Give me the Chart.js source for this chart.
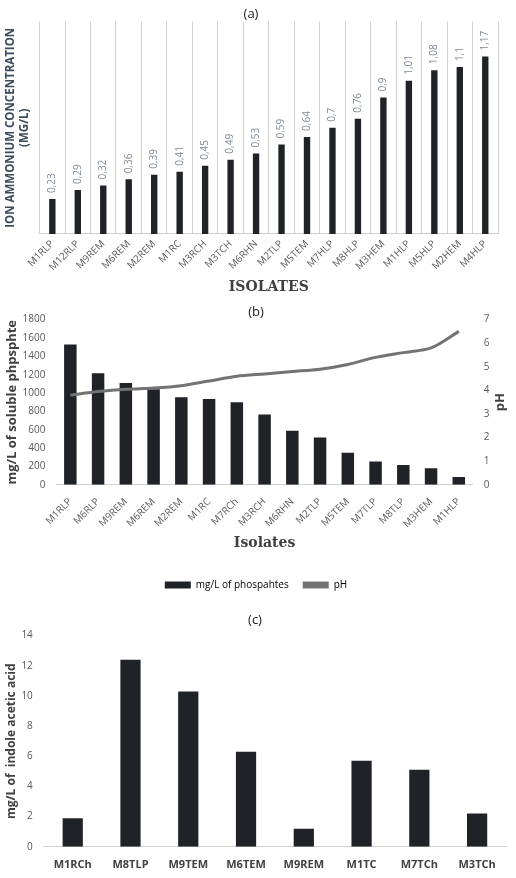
<!DOCTYPE html>
<html><head><meta charset="utf-8">
<script src="https://cdn.jsdelivr.net/npm/chart.js@4.4.1/dist/chart.umd.min.js"></script>
<style>
body{margin:0;background:#fff;font-family:"Open Sans",sans-serif}
.box{position:absolute;left:0;width:516px}
</style></head><body>
<div class="box" style="top:0;height:300px"><canvas id="ca"></canvas></div>
<div class="box" style="top:300px;height:300px"><canvas id="cb"></canvas></div>
<div class="box" style="top:600px;height:278px"><canvas id="cc"></canvas></div>
<script>
// (a) ion ammonium
const isolatesA = ['M1RLP','M12RLP','M9REM','M6REM','M2REM','M1RC','M3RCH','M3TCH','M6RHN','M2TLP','M5TEM','M7HLP','M8HLP','M3HEM','M1HLP','M5HLP','M2HEM','M4HLP'];
const ammonium = [0.23,0.29,0.32,0.36,0.39,0.41,0.45,0.49,0.53,0.59,0.64,0.7,0.76,0.9,1.01,1.08,1.1,1.17];
// (b) phosphate solubilisation
const isolatesB = ['M1RLP','M6RLP','M9REM','M6REM','M2REM','M1RC','M7RCh','M3RCH','M6RHN','M2TLP','M5TEM','M7TLP','M8TLP','M3HEM','M1HLP'];
const phosphate = [1530,1215,1110,1040,955,935,900,765,590,515,350,255,215,180,85];
const phValues = [3.8,3.95,4.05,4.1,4.2,4.4,4.6,4.7,4.8,4.9,5.1,5.4,5.6,5.8,6.5];
// (c) IAA
const isolatesC = ['M1RCh','M8TLP','M9TEM','M6TEM','M9REM','M1TC','M7TCh','M3TCh'];
const iaa = [1.9,12.4,10.3,6.3,1.2,5.7,5.1,2.2];

const BAR = '#1f2226', GRID = '#d0d0d0', TXT = '#595959';
const F = '"Open Sans", sans-serif';

const valueLabels = {
  id: 'valueLabels',
  afterDatasetsDraw(chart) {
    const ctx = chart.ctx;
    const meta = chart.getDatasetMeta(0);
    ctx.save();
    ctx.font = '10px ' + F;
    ctx.fillStyle = '#7f8c99';
    ctx.textAlign = 'left';
    ctx.textBaseline = 'middle';
    meta.data.forEach((bar, i) => {
      ctx.save();
      ctx.translate(bar.x, bar.y - 6);
      ctx.rotate(-Math.PI / 2);
      ctx.fillText(String(ammonium[i]).replace('.', ','), 0, 0);
      ctx.restore();
    });
    ctx.restore();
  }
};

// right axis title reading bottom-to-top, like the reference
const phTitle = {
  id: 'phTitle',
  afterDraw(chart) {
    const s = chart.scales.y1;
    const ctx = chart.ctx;
    ctx.save();
    ctx.translate(s.right - 8, (s.top + s.bottom) / 2);
    ctx.rotate(-Math.PI / 2);
    ctx.font = 'bold 13px ' + F;
    ctx.fillStyle = '#404040';
    ctx.textAlign = 'center';
    ctx.textBaseline = 'middle';
    ctx.fillText('pH', 0, 0);
    ctx.restore();
  }
};

new Chart(document.getElementById('ca'), {
  type: 'bar',
  data: { labels: isolatesA, datasets: [{ data: ammonium, backgroundColor: BAR, barPercentage: 0.25, categoryPercentage: 1 }] },
  options: {
    responsive: true, maintainAspectRatio: false, animation: false,
    layout: { padding: { top: 6, right: 18, left: 4 } },
    plugins: { legend: { display: false }, tooltip: { enabled: false },
      title: { display: true, text: '(a)', color: '#222', font: { family: F, size: 13, weight: 'normal' }, padding: { top: 0, bottom: 0 } } },
    scales: {
      x: { grid: { color: GRID, offset: true, drawTicks: false }, border: { color: GRID },
        ticks: { color: TXT, font: { family: F, size: 10 }, maxRotation: 45, minRotation: 45, padding: 4 },
        title: { display: true, text: 'ISOLATES', color: '#404040', font: { family: 'DejaVu Serif', size: 14, weight: 'bold' }, padding: { top: 2 } } },
      y: { min: 0, max: 1.4, grid: { display: false }, border: { display: false }, ticks: { display: false },
        title: { display: true, text: ['ION AMMONIUM CONCENTRATION', '(MG/L)'], color: '#3b4a5c', font: { family: F, size: 11.5, weight: 'bold' }, padding: 0 } }
    }
  },
  plugins: [valueLabels]
});

new Chart(document.getElementById('cb'), {
  data: { labels: isolatesB, datasets: [
    { type: 'line', label: 'pH', data: phValues, yAxisID: 'y1', borderColor: '#737373', backgroundColor: '#737373', borderWidth: 3, pointRadius: 0, tension: 0.3, order: 0 },
    { type: 'bar', label: 'mg/L of phospahtes', data: phosphate, yAxisID: 'y', backgroundColor: BAR, barPercentage: 0.45, categoryPercentage: 1, order: 1 }
  ] },
  options: {
    responsive: true, maintainAspectRatio: false, animation: false,
    layout: { padding: { top: 0, right: 8, left: 4, bottom: 0 } },
    plugins: { tooltip: { enabled: false },
      title: { display: true, text: '(b)', color: '#222', font: { family: F, size: 13, weight: 'normal' }, padding: { top: 4, bottom: 0 } },
      legend: { position: 'bottom', labels: { color: TXT, font: { family: F, size: 10 }, boxWidth: 26, boxHeight: 7, padding: 14,
        generateLabels: () => [
          { text: 'mg/L of phospahtes', fillStyle: BAR, strokeStyle: BAR, lineWidth: 0, datasetIndex: 1 },
          { text: 'pH', fillStyle: '#737373', strokeStyle: '#737373', lineWidth: 0, datasetIndex: 0 }
        ] } } },
    scales: {
      x: { grid: { display: false }, border: { color: GRID },
        ticks: { color: TXT, font: { family: F, size: 10 }, maxRotation: 45, minRotation: 45 },
        title: { display: true, text: 'Isolates', color: '#404040', font: { family: 'DejaVu Serif', size: 14, weight: 'bold' }, padding: { top: 2, bottom: 14 } } },
      y: { min: 0, max: 1800, ticks: { stepSize: 200, color: TXT, font: { family: F, size: 10 }, callback: v => String(v) }, grid: { display: false }, border: { display: false },
        title: { display: true, text: 'mg/L of soluble phpsphte', color: '#404040', font: { family: F, size: 13, weight: 'bold' }, padding: 0 } },
      y1: { position: 'right', min: 0, max: 7, ticks: { stepSize: 1, color: TXT, font: { family: F, size: 10 } }, grid: { display: false }, border: { display: false },
        title: { display: true, text: '  ', font: { size: 13 }, padding: 0 } }
    }
  },
  plugins: [phTitle]
});

new Chart(document.getElementById('cc'), {
  type: 'bar',
  data: { labels: isolatesC, datasets: [{ data: iaa, backgroundColor: BAR, barPercentage: 0.35, categoryPercentage: 1 }] },
  options: {
    responsive: true, maintainAspectRatio: false, animation: false,
    layout: { padding: { top: 4, right: 10, left: 4, bottom: 4 } },
    plugins: { legend: { display: false }, tooltip: { enabled: false },
      title: { display: true, text: '(c)', color: '#222', font: { family: F, size: 13, weight: 'normal' }, padding: { top: 8, bottom: 8 } } },
    scales: {
      x: { grid: { display: false }, border: { color: GRID },
        ticks: { color: '#404040', font: { family: F, size: 11, weight: 'bold' } } },
      y: { min: 0, max: 14, ticks: { stepSize: 2, color: TXT, font: { family: F, size: 10 } }, grid: { display: false }, border: { display: false },
        title: { display: true, text: 'mg/L of  indole acetic acid', color: '#404040', font: { family: F, size: 12, weight: 'bold' }, padding: 0 } }
    }
  }
});
</script>
</body></html>
